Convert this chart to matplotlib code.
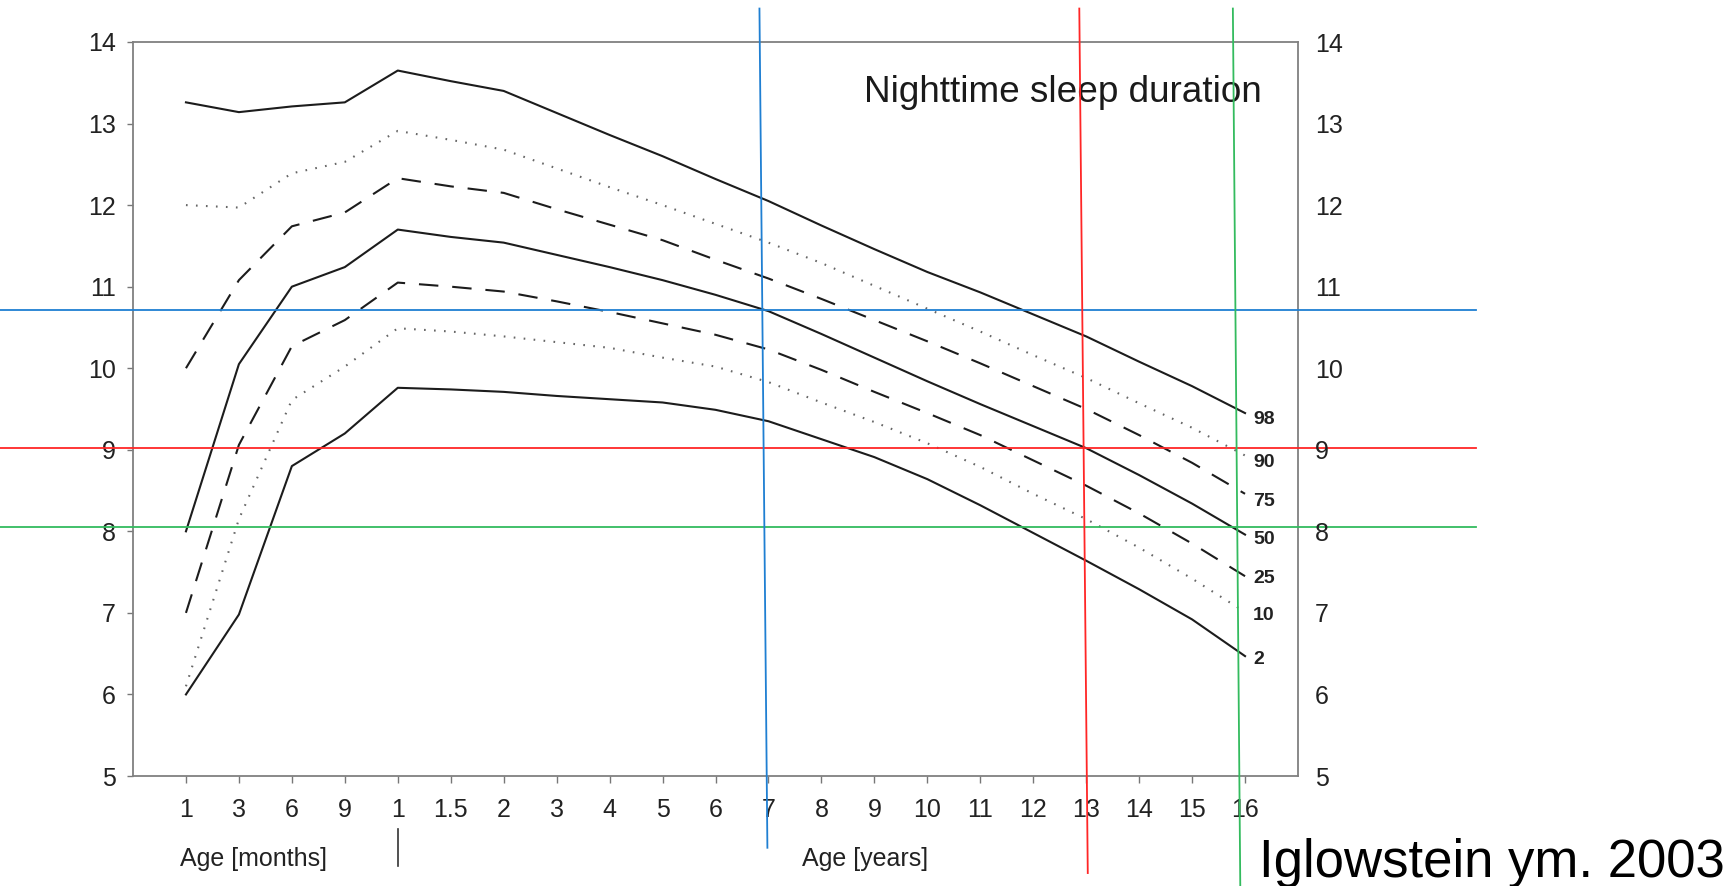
import matplotlib
matplotlib.use("Agg")
import matplotlib.pyplot as plt
import matplotlib.transforms as mtransforms

plt.rcParams['font.family'] = ['Liberation Sans', 'DejaVu Sans']
plt.rcParams['lines.scale_dashes'] = False

# age axis (equally spaced categories)
age_labels = ['1', '3', '6', '9', '1', '1.5', '2', '3', '4', '5', '6', '7', '8',
              '9', '10', '11', '12', '13', '14', '15', '16']

# nighttime sleep duration percentiles (hours)
p98 = [13.26, 13.14, 13.21, 13.26, 13.65, 13.52, 13.40, 13.13, 12.86, 12.60, 12.32,
       12.05, 11.75, 11.46, 11.18, 10.93, 10.66, 10.39, 10.08, 9.78, 9.45]
p90 = [12.00, 11.97, 12.39, 12.53, 12.91, 12.80, 12.68, 12.45, 12.22, 12.00, 11.77,
       11.54, 11.29, 11.01, 10.73, 10.45, 10.16, 9.88, 9.57, 9.27, 8.93]
p75 = [10.00, 11.08, 11.74, 11.91, 12.33, 12.23, 12.15, 11.95, 11.76, 11.57, 11.33,
       11.10, 10.85, 10.59, 10.33, 10.06, 9.78, 9.50, 9.18, 8.84, 8.46]
p50 = [8.00, 10.05, 11.00, 11.24, 11.70, 11.61, 11.54, 11.39, 11.24, 11.08, 10.90,
       10.70, 10.42, 10.13, 9.84, 9.56, 9.29, 9.02, 8.69, 8.34, 7.96]
p25 = [7.00, 9.06, 10.27, 10.59, 11.05, 11.00, 10.94, 10.82, 10.69, 10.55, 10.41,
       10.23, 9.98, 9.71, 9.45, 9.18, 8.87, 8.56, 8.22, 7.85, 7.45]
p10 = [6.10, 8.15, 9.61, 10.02, 10.49, 10.45, 10.39, 10.32, 10.25, 10.13, 10.02,
       9.83, 9.58, 9.34, 9.08, 8.79, 8.46, 8.15, 7.80, 7.42, 7.01]
p02 = [6.00, 6.98, 8.80, 9.20, 9.76, 9.74, 9.71, 9.66, 9.62, 9.58, 9.49,
       9.35, 9.13, 8.91, 8.64, 8.32, 7.98, 7.64, 7.29, 6.92, 6.47]

curves = [p98, p90, p75, p50, p25, p10, p02]
curve_names = ['98', '90', '75', '50', '25', '10', '2']
label_y = [9.37, 8.84, 8.37, 7.90, 7.42, 6.97, 6.43]

# coloured guide lines drawn over the chart
guide_colors = ['#1f7fd2', '#ff2626', '#33bb5e']
guide_levels = [10.71, 9.02, 8.05]
guide_h_span = (-3.51, 24.37)
guide_v_top_x = [10.83, 16.87, 19.77]
guide_v_bot_x = [10.98, 17.03, 19.91]
guide_v_bot_y = [4.12, 3.81, 3.65]
guide_v_top_y = 14.41

solid = dict(color='#1c1c1c', lw=1.5, ls='-')
dashed = dict(color='#1c1c1c', lw=1.5, dashes=(14, 10))
dotted = dict(color='#666666', lw=1.5, dashes=(1.2, 6))
styles = [solid, dotted, dashed, solid, dashed, dotted, solid]

fig = plt.figure(figsize=(17.36, 8.86), dpi=100)
ax = fig.add_axes([133 / 1736, 1 - 776 / 886, 1165 / 1736, 734 / 886])
x = list(range(len(age_labels)))

for vals, st in zip(curves, styles):
    ax.plot(x, vals, **st)

for name, y in zip(curve_names, label_y):
    ax.text(20.15, y, name, ha='left', va='center', fontsize=14,
            fontweight='bold', color='#222222')

ax.set_xlim(-1, 21)
ax.set_ylim(5, 14)
ax.set_xticks(x)
ax.set_xticklabels(age_labels)
ax.set_yticks(range(5, 15))
ax.tick_params(axis='x', length=5, width=1, color='#777777', pad=11,
               labelsize=18, labelcolor='#222222')
ax.tick_params(axis='y', length=4.5, width=1, color='#777777', pad=8,
               labelsize=18, labelcolor='#222222')
for s in ax.spines.values():
    s.set_color('#808080')
    s.set_linewidth(1.3)

ax2 = ax.twinx()
ax2.set_ylim(5, 14)
ax2.set_yticks(range(5, 15))
ax2.tick_params(axis='y', length=0, pad=12, labelsize=18, labelcolor='#222222')
for s in ax2.spines.values():
    s.set_visible(False)

ax.text(12.8, 13.27, 'Nighttime sleep duration', fontsize=26.6,
        color='#1a1a1a', ha='left', va='baseline')

# axis captions below tick labels
trans = mtransforms.blended_transform_factory(ax.transData, ax.transAxes)
ax.text(-0.11, -0.1226, 'Age [months]', transform=trans, fontsize=18,
        color='#222222', va='baseline', ha='left')
ax.text(11.63, -0.1226, 'Age [years]', transform=trans, fontsize=18,
        color='#222222', va='baseline', ha='left')
ax.plot([4, 4], [-0.0723, -0.1228], transform=trans, color='#333333',
        lw=1.2, clip_on=False)

for c, lvl in zip(guide_colors, guide_levels):
    ax.plot(guide_h_span, [lvl, lvl], color=c, lw=1.3, clip_on=False, zorder=5)
for c, xt, xb, yb in zip(guide_colors, guide_v_top_x, guide_v_bot_x, guide_v_bot_y):
    ax.plot([xt, xb], [guide_v_top_y, yb], color=c, lw=1.3, clip_on=False, zorder=5)

fig.text(1259 / 1736, 0.0105, 'Iglowstein ym. 2003', fontsize=38,
         color='black', ha='left', va='baseline')

fig.savefig('out.png', dpi=100)
